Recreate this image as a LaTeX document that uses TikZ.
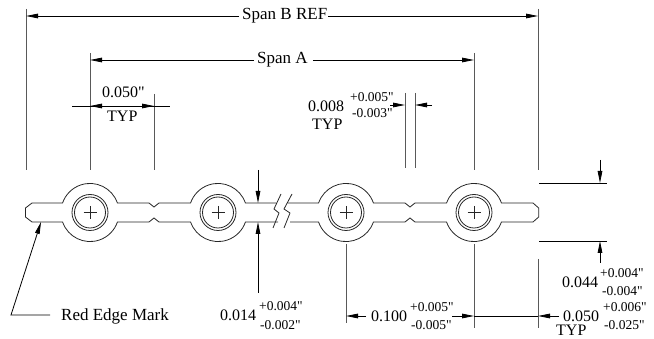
\documentclass[tikz,border=0pt]{standalone}
\usepackage{fontspec}
\newfontfamily\libser{Liberation Serif}
\usetikzlibrary{arrows.meta}
\tikzset{
  part/.style={draw=black!85,line width=0.8pt},
  extline/.style={draw=black!65,line width=1pt},
  dimline/.style={draw=black,line width=0.8pt},
  tip/.style={-{Stealth[inset=0pt,length=12pt,width=4.6pt]}},
  big/.style={font=\libser\fontsize{16}{16}\selectfont,inner sep=0pt,anchor=west},
  wide/.style={font=\libser\fontsize{17}{17}\selectfont,inner sep=0pt,anchor=west},
  small/.style={font=\libser\fontsize{13.5}{13.5}\selectfont,inner sep=0pt,anchor=west}
}
\begin{document}
\begin{tikzpicture}[x=1pt,y=-1pt]
\useasboundingbox (0,0) rectangle (654,339);
% strip outline
\draw[part] (276,203) -- (245.4,203) arc[start angle=19,end angle=161,radius=29pt] -- (159,203) -- (154,207) -- (149,203) -- (117.4,203) arc[start angle=19,end angle=161,radius=29pt] -- (32,203) -- (25.5,208) -- (25.5,217) -- (32,222) -- (62.6,222) arc[start angle=199,end angle=341,radius=29pt] -- (149,222) -- (154,218) -- (159,222) -- (190.6,222) arc[start angle=199,end angle=341,radius=29pt] -- (278,222);
\draw[part] (288,203) -- (318.6,203) arc[start angle=161,end angle=19,radius=29pt] -- (405,203) -- (410,207) -- (415,203) -- (446.6,203) arc[start angle=161,end angle=19,radius=29pt] -- (533,203) -- (538.7,208) -- (538.7,217) -- (533,222) -- (501.4,222) arc[start angle=341,end angle=199,radius=29pt] -- (415,222) -- (410,218) -- (405,222) -- (373.4,222) arc[start angle=341,end angle=199,radius=29pt] -- (290,222);
\foreach \cx in {90,218,346,474}{
  \draw[part] (\cx,212.5) circle[radius=18pt];
  \draw[part] (\cx,212.5) circle[radius=15.5pt];
  \draw[part,line width=0.7pt] (\cx-6.5,212.5) -- (\cx+6.5,212.5) (\cx,206) -- (\cx,219);
}
% break marks
\draw[part] (281,194) -- (274,209) -- (279,213) -- (273,228);
\draw[part] (292,194) -- (284,209) -- (290,213) -- (284,228);
% named points
\coordinate (bL) at (26,9); \coordinate (bLe) at (26,170);
\coordinate (bR) at (538,9); \coordinate (bRe) at (538,170);
\coordinate (aL) at (90,53); \coordinate (aLe) at (90,170);
\coordinate (aR) at (474,53); \coordinate (aRe) at (474,170);
\coordinate (tR) at (154,94); \coordinate (tRe) at (154,170);
\coordinate (eL) at (405,93); \coordinate (eLe) at (405,168);
\coordinate (eR) at (415,93); \coordinate (eRe) at (415,168);
\coordinate (c3) at (346,244); \coordinate (c3e) at (346,323);
\coordinate (c4) at (474,244); \coordinate (c4e) at (474,328);
\coordinate (en) at (538,259); \coordinate (ene) at (538,328);
\coordinate (hT1) at (539,183); \coordinate (hT2) at (607,183);
\coordinate (hB1) at (539,241); \coordinate (hB2) at (607,241);
% extension lines
\foreach \a/\b in {bL/bLe,bR/bRe,aL/aLe,aR/aRe,tR/tRe,eL/eLe,eR/eRe,c3/c3e,c4/c4e,en/ene}{\draw[extline] (\a) -- (\b);}
\draw[dimline] (hT1) -- (hT2);
\draw[dimline] (hB1) -- (hB2);
% texts
\node[wide] (spanB) at (242,16) {Span B REF};
\node[wide] (spanA) at (257,60) {Span A};
\node[big] (d050) at (102,92) {0.050"};
\node[big] (t050) at (107,116) {TYP};
\node[big] (d008) at (308,106) {0.008};
\node[big] (t008) at (312,124) {TYP};
\node[small] (p008) at (350,97) {+0.005"};
\node[small] (m008) at (352,113) {-0.003"};
\node[big] (d044) at (562,282) {0.044};
\node[small] (p044) at (600,273) {+0.004"};
\node[small] (m044) at (602,291) {-0.004"};
\node[big] (d014) at (220,315) {0.014};
\node[small] (p014) at (259,306) {+0.004"};
\node[small] (m014) at (260,325) {-0.002"};
\node[wide] (red) at (61,316) {Red Edge Mark};
\node[big] (d100) at (371,316) {0.100};
\node[small] (p100) at (410,307) {+0.005"};
\node[small] (m100) at (411,325) {-0.005"};
\node[big] (d050b) at (563,316) {0.050};
\node[small] (p050b) at (603,307) {+0.006"};
\node[small] (m050b) at (604,325) {-0.025"};
\node[big] (t050b) at (556,330) {TYP};
% dimension lines
\draw[dimline,tip] (spanB.west) ++(-3,0) -- (bL|-spanB);
\draw[dimline,tip] (spanB.east) ++(1,0) -- (bR|-spanB);
\draw[dimline,tip] (spanA.west) ++(-3,0) -- (aL|-spanA);
\draw[dimline,tip] (spanA.east) ++(5,0) -- (aR|-spanA);
\coordinate (y106) at (0,106);
\coordinate (o1) at (72,106); \coordinate (o2) at (170,106);
\draw[dimline,tip] (aLe|-y106) ++(12,0) -- (aLe|-y106);
\draw[dimline,tip] (tRe|-y106) ++(-12,0) -- (tRe|-y106);
\draw[dimline] (o1) -- (o2);
\coordinate (y105) at (0,105);
\coordinate (o3) at (390,105); \coordinate (o4) at (432,105);
\draw[dimline,tip] (o3) -- (eL|-y105);
\draw[dimline,tip] (o4) -- (eR|-y105);
\coordinate (h1) at (600,160); \coordinate (h2) at (600,263);
\draw[dimline,tip] (h1) -- (h1|-hT1);
\draw[dimline,tip] (h2) -- (h2|-hB1);
\coordinate (w1) at (258,170); \coordinate (w2) at (258,293);
\coordinate (wt) at (258,203); \coordinate (wb) at (258,222);
\draw[dimline,tip] (w1) -- (wt);
\draw[dimline,tip] (w2) -- (wb);
\coordinate (l1) at (50,315); \coordinate (l2) at (11,315); \coordinate (l3) at (41,222);
\draw[dimline,tip] (l1) -- (l2) -- (l3);
\coordinate (y316) at (0,316);
\coordinate (q1) at (366,316); \coordinate (q2) at (452,316); \coordinate (q3) at (559,316);
\draw[dimline,tip] (q1) -- (c3|-y316);
\draw[dimline,tip] (q2) -- (c4|-y316);
\draw[dimline,tip] (q3) -- (en|-y316);
\draw[dimline] (c4|-y316) -- (en|-y316);
\end{tikzpicture}
\end{document}
